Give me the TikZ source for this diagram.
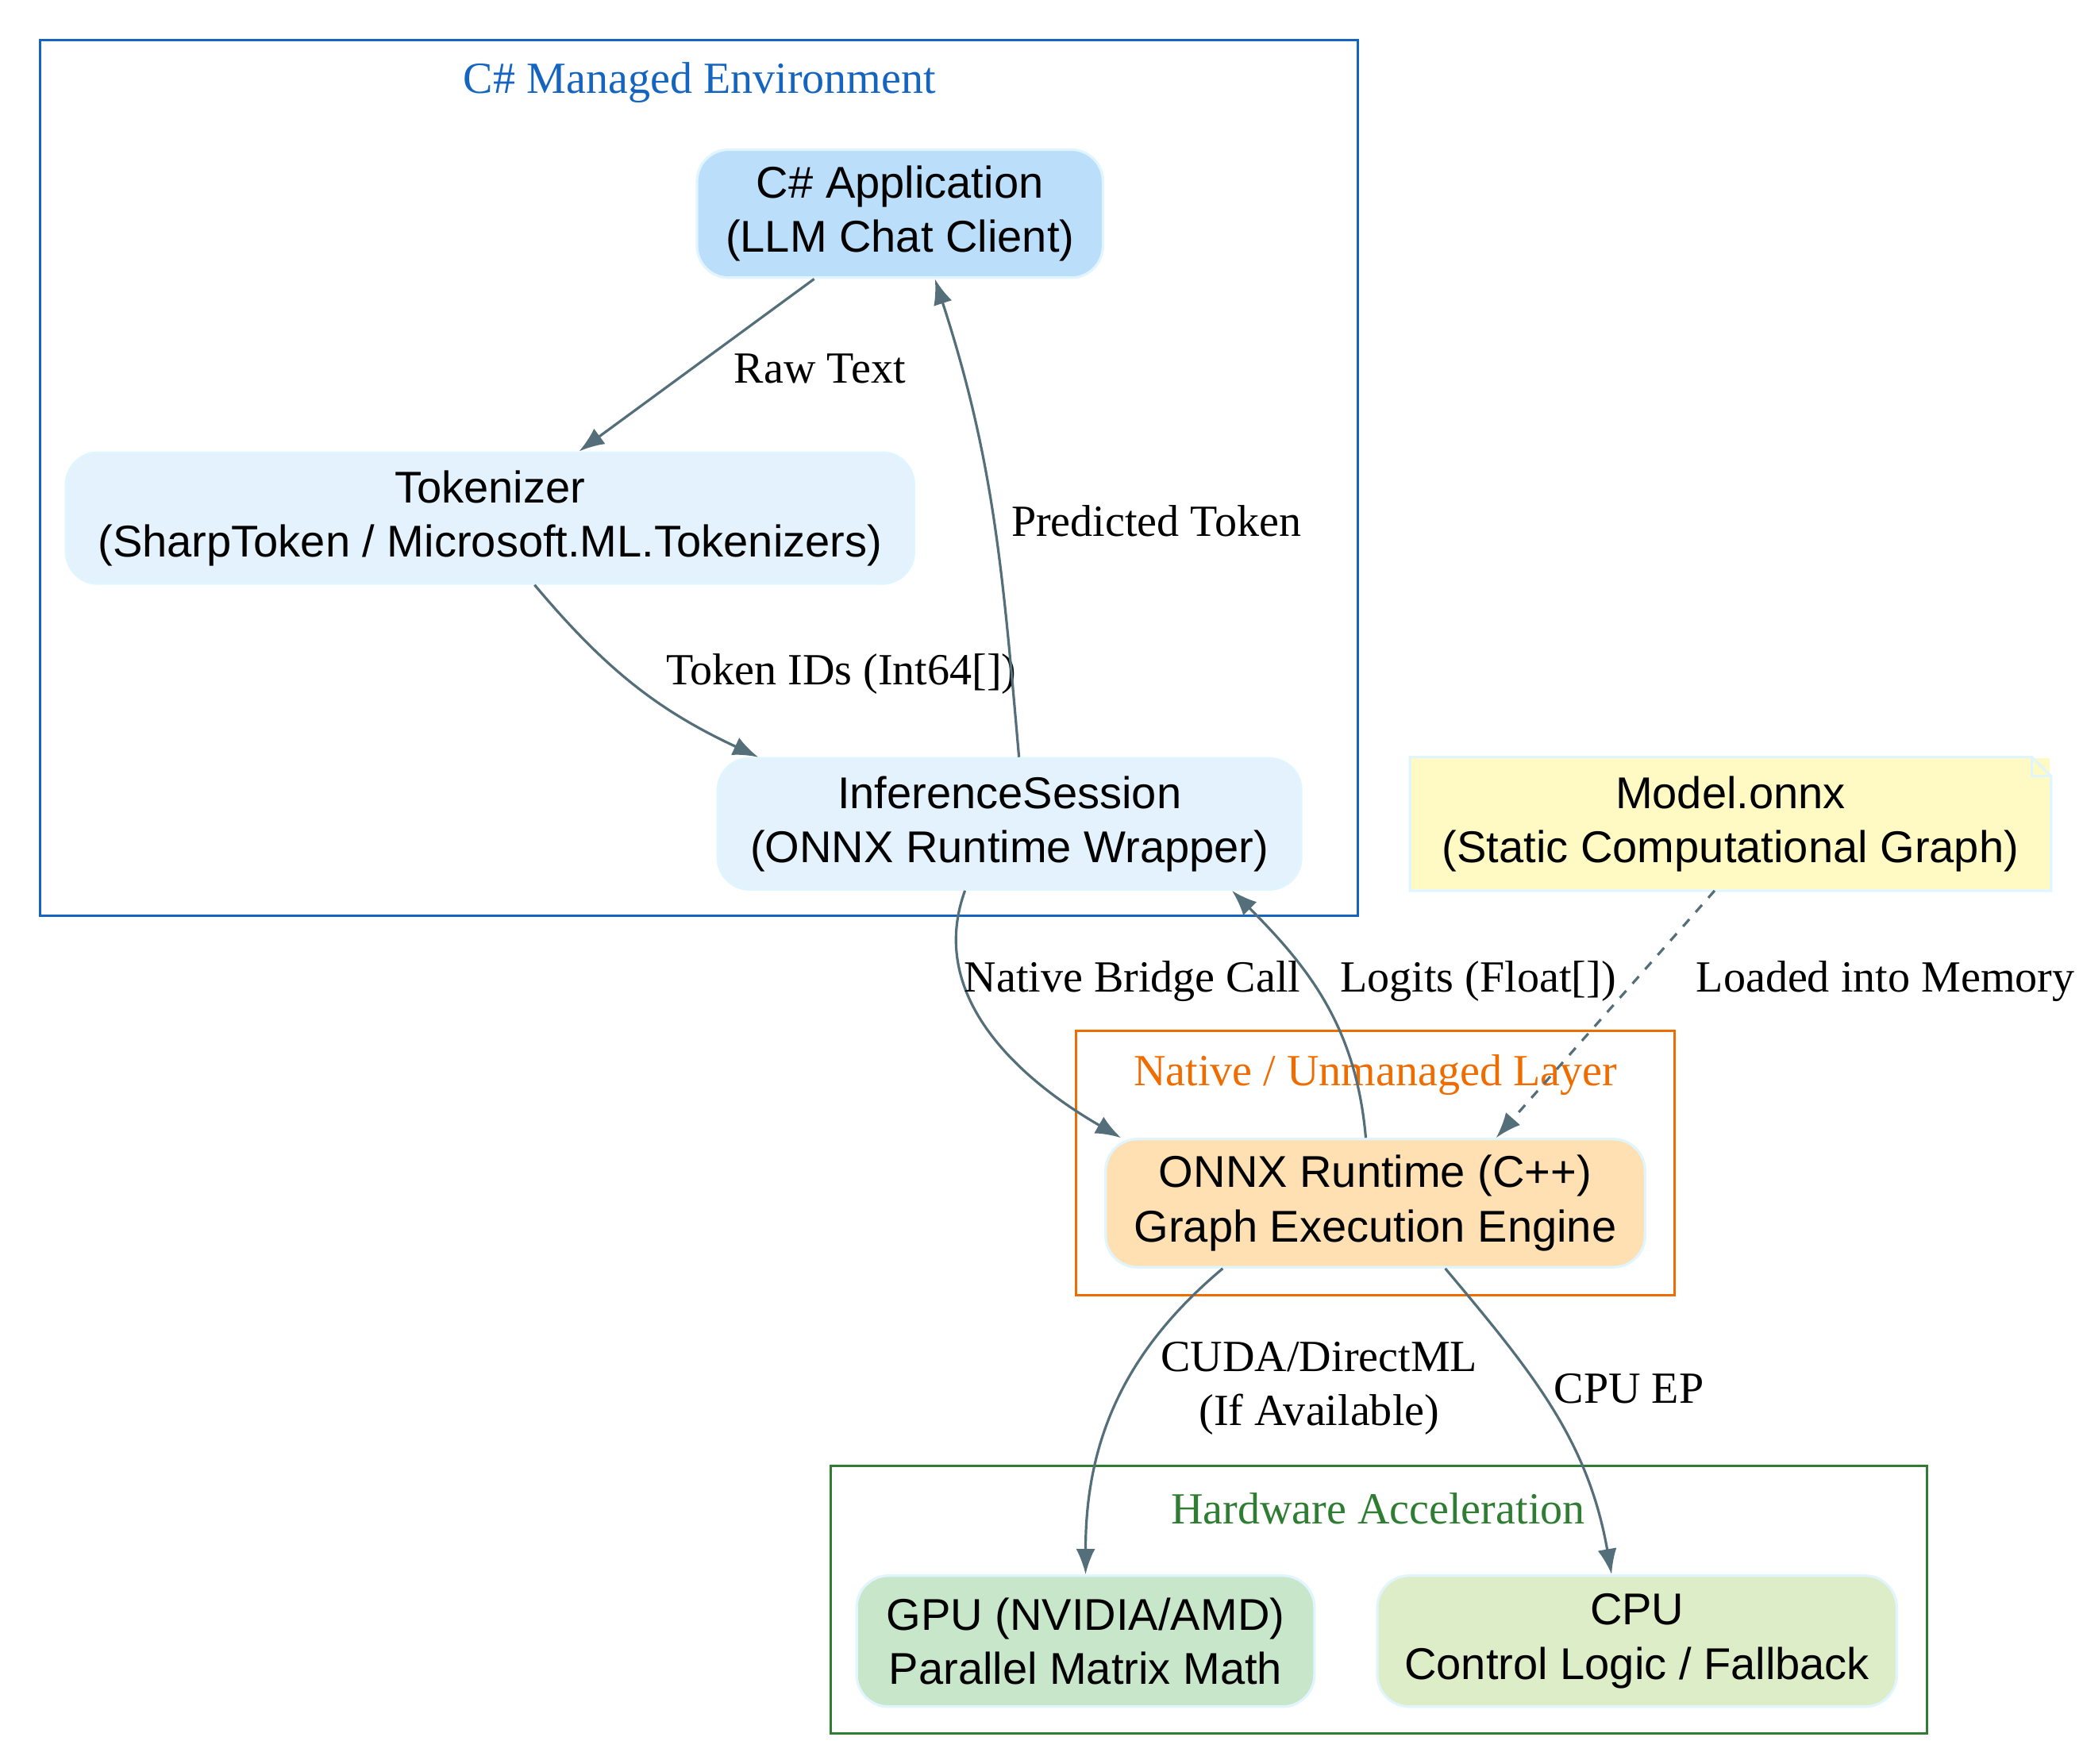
\documentclass[tikz,border=0pt]{standalone}
\usepackage{fontspec}
\setmainfont{Liberation Serif}
\newfontfamily\boxfont{Liberation Sans}
\usetikzlibrary{arrows.meta}
\definecolor{edgec}{HTML}{546E7A}
\definecolor{rimc}{HTML}{E1F5FE}
\definecolor{bluec}{HTML}{1565C0}
\definecolor{orangec}{HTML}{EF6C00}
\definecolor{greenc}{HTML}{2E7D32}
\tikzset{
  box/.style={rectangle, rounded corners=10pt, draw=rimc, thick, align=center,
              font=\boxfont\fontsize{14}{17}\selectfont, inner sep=0pt},
  cluster/.style={draw, thick},
  ctitle/.style={font=\fontsize{14}{17}\selectfont},
  flow/.style={draw=edgec, thick, -{Latex[length=8pt,width=6pt]}},
  lab/.style={font=\fontsize{14}{17}\selectfont, align=center, fill=none}
}

\begin{document}
\begin{tikzpicture}[x=0.42pt, y=-0.42pt]
        \useasboundingbox (0,0) rectangle (1560,1321);

        % --- Clusters
        \draw[cluster, bluec] (30,30) rectangle (1017,686);
        \node[ctitle, text=bluec] (t1) at (524,62) {C\# Managed Environment};
        \draw[cluster, orangec] (806,772) rectangle (1254,970);
        \node[ctitle, text=orangec] (t2) at (1030,805) {Native / Unmanaged Layer};
        \draw[cluster, greenc] (622,1098) rectangle (1443,1298);
        \node[ctitle, text=greenc] (t3) at (1032,1130) {Hardware Acceleration};

        % --- Nodes
        \node[box, fill=blue!25!cyan!20, fill={rgb,255:red,187;green,222;blue,251}, minimum width=127.7pt, minimum height=40.3pt] (app) at (674,160) {C\# Application\\(LLM Chat Client)};
        \node[box, fill={rgb,255:red,227;green,242;blue,253}, minimum width=266.7pt, minimum height=41.2pt] (tok) at (367,388) {Tokenizer\\(SharpToken / Microsoft.ML.Tokenizers)};
        \node[box, fill={rgb,255:red,227;green,242;blue,253}, minimum width=183.5pt, minimum height=41.2pt] (sess) at (756,617) {InferenceSession\\(ONNX Runtime Wrapper)};
        \node[box, rounded corners=0pt, draw=none, fill={rgb,255:red,255;green,249;blue,196}, minimum width=200.8pt, minimum height=41.2pt] (model) at (1296,617) {Model.onnx\\(Static Computational Graph)};
        \draw[rimc, thick] (model.south west) -- (model.north west) -- ([xshift=-6pt]model.north east)
              -- ([yshift=-6pt]model.north east) -- (model.south east) -- cycle;
        \draw[rimc, thick] ([xshift=-6pt]model.north east) -- ([xshift=-6pt,yshift=-6pt]model.north east) -- ([yshift=-6pt]model.north east);
        \node[box, fill={rgb,255:red,255;green,224;blue,178}, minimum width=169.7pt, minimum height=40.3pt] (ort) at (1030,901) {ONNX Runtime (C++)\\Graph Execution Engine};
        \node[box, fill={rgb,255:red,200;green,230;blue,201}, minimum width=144pt, minimum height=41.2pt] (gpu) at (813,1229) {GPU (NVIDIA/AMD)\\Parallel Matrix Math};
        \node[box, fill={rgb,255:red,220;green,237;blue,200}, minimum width=163.4pt, minimum height=41.2pt] (cpu) at (1226,1229) {CPU\\Control Logic / Fallback};

        % --- Connectors
        \draw[flow] ([xshift=-27pt]app.south) -- ([xshift=28pt]tok.north);
        \node[lab] (l1) at (614,276) {Raw Text};
        \draw[flow] ([xshift=14pt]tok.south) to[out=-50, in=155] ([xshift=-79pt]sess.north);
        \node[lab] (l2) at (630,505) {Token IDs (Int64[])};
        \draw[flow] ([xshift=3pt]sess.north) to[out=95, in=-72] ([xshift=11pt]app.south);
        \node[lab] (l3) at (866,390) {Predicted Token};
        \draw[flow] ([xshift=-14pt]sess.south) to[out=-110, in=150] ([xshift=-80pt]ort.north);
        \node[lab] (l4) at (848,735) {Native Bridge Call};
        \draw[flow] ([xshift=-3pt]ort.north) to[out=95, in=-45] ([xshift=70pt]sess.south);
        \node[lab] (l5) at (1107,735) {Logits (Float[])};
        \draw[flow, dashed] ([xshift=-5pt]model.south) -- ([xshift=38pt]ort.north);
        \node[lab] (l6) at (1412,735) {Loaded into Memory};
        \draw[flow] ([xshift=-48pt]ort.south) to[out=-140, in=90] (gpu.north);
        \node[lab] (l7) at (988,1040) {CUDA/DirectML\\(If Available)};
        \draw[flow] ([xshift=22pt]ort.south) to[out=-50, in=100] ([xshift=-8pt]cpu.north);
        \node[lab] (l8) at (1220,1040) {CPU EP};

\end{tikzpicture}
\end{document}
